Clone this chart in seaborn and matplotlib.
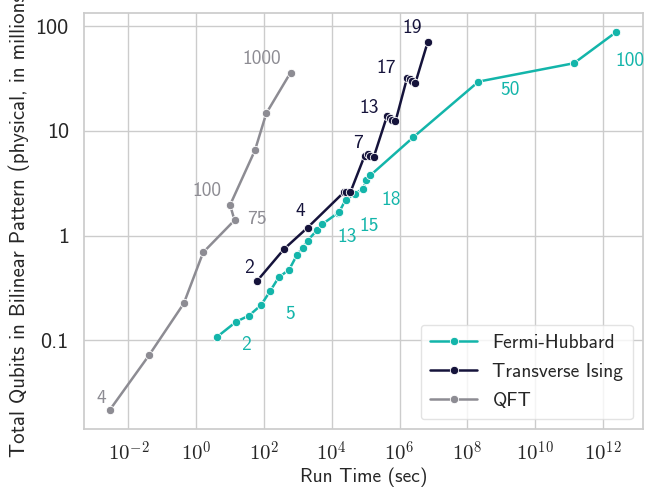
import matplotlib
matplotlib.use("Agg")
import matplotlib.pyplot as plt
import matplotlib.ticker as mticker
import numpy as np
import pandas as pd
import seaborn as sns

sns.set_theme(style="whitegrid")
plt.rcParams['font.family'] = ['cmss10', 'DejaVu Sans']
plt.rcParams['mathtext.fontset'] = 'cm'
plt.rcParams['axes.unicode_minus'] = True

# run time (sec) vs total qubits (millions)
fh_time = [4.15, 15.3, 36, 81, 150, 270, 555, 955, 1400, 1930, 3700, 5190,
           15000, 16600, 25700, 47400, 83500, 1.05e5, 1.37e5, 2.57e6,
           2.14e8, 1.41e11, 2.51e12]
fh_qubits = [0.108, 0.151, 0.172, 0.216, 0.293, 0.398, 0.474, 0.659, 0.769,
             0.895, 1.13, 1.28, 1.64, 1.68, 2.2, 2.51, 2.8, 3.37, 3.75, 8.7,
             29.5, 44.2, 88]

ti_time = [63.5, 395, 1930, 22500, 26900, 35300, 93300, 1.17e5, 1.38e5,
           1.72e5, 4.23e5, 5.08e5, 6.1e5, 7.6e5, 1.68e6, 1.97e6, 2.36e6,
           2.95e6, 6.76e6]
ti_qubits = [0.371, 0.746, 1.19, 2.58, 2.58, 2.58, 5.78, 6.04, 5.78, 5.57,
             13.7, 13.2, 12.7, 12.3, 32.2, 31.3, 30.1, 28.8, 70]

qft_time = [2.8e-3, 0.041, 0.43, 1.6, 13.5, 10, 54, 117, 610]
qft_qubits = [0.0216, 0.0724, 0.225, 0.69, 1.40, 1.96, 6.5, 14.7, 36]

# (point index, text) for the size labels
fh_labels = [(0, "2"), (3, "5"), (12, "13"), (14, "15"), (18, "18"), (20, "50"), (22, "100")]
ti_labels = [(0, "2"), (2, "4"), (6, "7"), (10, "13"), (14, "17"), (18, "19")]
qft_labels = [(0, "4"), (4, "75"), (5, "100"), (8, "1000")]

names = ["Fermi-Hubbard", "Transverse Ising", "QFT"]
colors = {"Fermi-Hubbard": "#13b5aa", "Transverse Ising": "#15133b", "QFT": "#8d8c93"}

df = pd.concat([
    pd.DataFrame({"time": fh_time, "qubits": fh_qubits, "algo": "Fermi-Hubbard"}),
    pd.DataFrame({"time": ti_time, "qubits": ti_qubits, "algo": "Transverse Ising"}),
    pd.DataFrame({"time": qft_time, "qubits": qft_qubits, "algo": "QFT"}),
], ignore_index=True)

fig = plt.figure(figsize=(6.62, 4.91), dpi=100)
ax = fig.add_axes([0.127, 0.126, 0.844, 0.848])

sns.lineplot(data=df, x="time", y="qubits", hue="algo", hue_order=names,
             palette=colors, units="algo", estimator=None, sort=False,
             marker="o", markersize=6, markeredgecolor="white",
             markeredgewidth=0.6, linewidth=1.8, ax=ax)

ax.set_xscale("log")
ax.set_yscale("log")
ax.set_xlim(10**-3.31, 10**13.18)
ax.set_ylim(10**-1.848, 10**2.127)

ax.xaxis.set_major_locator(mticker.FixedLocator([10.0**k for k in range(-2, 13, 2)]))
ax.xaxis.set_major_formatter(mticker.FuncFormatter(lambda v, _: r"$10^{%d}$" % round(np.log10(v))))
ax.xaxis.set_minor_locator(mticker.NullLocator())
ax.yaxis.set_major_locator(mticker.FixedLocator([0.1, 1, 10, 100]))
ax.yaxis.set_major_formatter(mticker.FuncFormatter(lambda v, _: f"{v:g}"))
ax.yaxis.set_minor_locator(mticker.NullLocator())
ax.tick_params(axis="x", labelsize=15, pad=2)
ax.tick_params(axis="y", labelsize=16, pad=5)

ax.set_xlabel("Run Time (sec)", fontsize=14, labelpad=2)
ax.set_ylabel("Total Qubits in Bilinear Pattern (physical, in millions)",
              fontsize=15, labelpad=4)

offsets = {
    "Fermi-Hubbard": [(21, -6), (21, -6), (7, -17), (17, -19), (15, -18), (23, -6), (10, -21)],
    "Transverse Ising": [(-6, 9), (-5, 12), (-5, 9), (-13, 6), (-15, 7), (-11, 10)],
    "QFT": [(-6, 9), (16, 1), (-17, 10), (-21, 10)],
}
series = {
    "Fermi-Hubbard": (fh_time, fh_qubits, fh_labels),
    "Transverse Ising": (ti_time, ti_qubits, ti_labels),
    "QFT": (qft_time, qft_qubits, qft_labels),
}
for name in names:
    xs, ys, labs = series[name]
    for (idx, txt), off in zip(labs, offsets[name]):
        ax.annotate(txt, (xs[idx], ys[idx]), xytext=off, textcoords="offset points",
                    ha="center", va="center", fontsize=14, color=colors[name])

leg = ax.legend(loc="lower right", fontsize=14, title=None, frameon=True,
                borderpad=0.5, labelspacing=0.55, handlelength=2.4)
leg.get_frame().set_edgecolor("#dddddd")

fig.savefig("out.png", dpi=100)
